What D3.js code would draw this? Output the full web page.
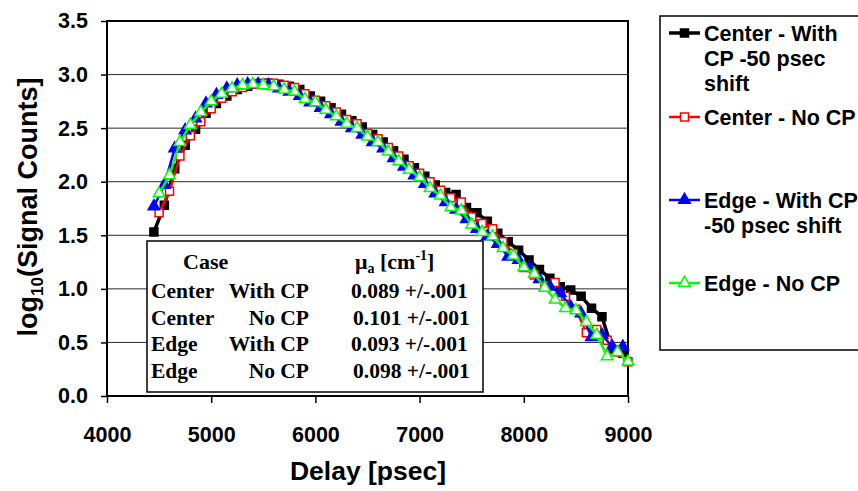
<!DOCTYPE html>
<html>
<head>
<meta charset="utf-8">
<script src="https://cdnjs.cloudflare.com/ajax/libs/d3/7.8.5/d3.min.js"></script>
<style>
body { margin: 0; background: #fff; }
text { font-family: Arial, "Liberation Sans", sans-serif; font-weight: bold; fill: #000; }
.tbl text { font-family: "Times New Roman", "Liberation Serif", serif; }
</style>
</head>
<body>
<div id="chart"></div>
<script>
var svgWidth = 858;
var svgHeight = 491;

// delays (psec); the "With CP" runs are shifted by -50 psec
var delayNoCP = [4500, 4600, 4700, 4800, 4900, 5000, 5100, 5200, 5300, 5400, 5500, 5600, 5700, 5800, 5900,
  6000, 6100, 6200, 6300, 6400, 6500, 6600, 6700, 6800, 6900, 7000, 7100, 7200, 7300, 7400, 7500,
  7600, 7700, 7800, 7900, 8000, 8100, 8200, 8300, 8400, 8500, 8600, 8700, 8800, 8900, 9000];
var delayWithCP = [4450, 4550, 4650, 4750, 4850, 4950, 5050, 5150, 5250, 5350, 5450, 5550, 5650, 5750, 5850,
  5950, 6050, 6150, 6250, 6350, 6450, 6550, 6650, 6750, 6850, 6950, 7050, 7150, 7250, 7350, 7450,
  7550, 7650, 7750, 7850, 7950, 8050, 8150, 8250, 8350, 8450, 8550, 8650, 8750, 8850, 8950];

var centerWithCP = [1.53, 1.78, 2.12, 2.34, 2.49, 2.64, 2.73, 2.80, 2.86, 2.89, 2.91, 2.92, 2.91, 2.89, 2.86,
  2.80, 2.75, 2.69, 2.63, 2.57, 2.51, 2.44, 2.37, 2.29, 2.21, 2.13, 2.05, 1.97, 1.90, 1.88, 1.76,
  1.71, 1.63, 1.52, 1.44, 1.36, 1.27, 1.18, 1.10, 1.02, 0.99, 0.93, 0.82, 0.74, 0.43, 0.40];
var centerNoCP = [1.71, 1.91, 2.24, 2.43, 2.56, 2.68, 2.78, 2.84, 2.88, 2.91, 2.92, 2.92, 2.90, 2.88, 2.82,
  2.76, 2.71, 2.65, 2.58, 2.54, 2.45, 2.40, 2.32, 2.24, 2.15, 2.08, 2.00, 1.92, 1.85, 1.81, 1.67,
  1.61, 1.56, 1.44, 1.33, 1.20, 1.13, 1.03, 1.06, 0.93, 0.81, 0.59, 0.62, 0.52, 0.41, 0.32];
var edgeWithCP = [1.77, 1.97, 2.31, 2.48, 2.59, 2.73, 2.81, 2.87, 2.90, 2.91, 2.91, 2.90, 2.87, 2.84, 2.80,
  2.74, 2.69, 2.63, 2.56, 2.50, 2.44, 2.37, 2.31, 2.22, 2.14, 2.06, 1.98, 1.89, 1.81, 1.74, 1.65,
  1.56, 1.49, 1.42, 1.30, 1.27, 1.20, 1.09, 1.02, 0.96, 0.83, 0.77, 0.55, 0.57, 0.46, 0.46];
var edgeNoCP = [1.89, 2.06, 2.37, 2.53, 2.65, 2.75, 2.82, 2.87, 2.90, 2.91, 2.90, 2.89, 2.86, 2.84, 2.77,
  2.74, 2.67, 2.61, 2.54, 2.50, 2.42, 2.37, 2.28, 2.19, 2.11, 2.04, 1.94, 1.87, 1.76, 1.73, 1.60,
  1.53, 1.49, 1.38, 1.31, 1.20, 1.14, 1.01, 0.90, 0.82, 0.80, 0.69, 0.57, 0.37, 0.41, 0.32];

var seriesNames = ["Center - With CP -50 psec shift", "Center - No CP", "Edge - With CP -50 psec shift", "Edge - No CP"];
var legendLines = [["Center - With", "CP -50 psec", "shift"], ["Center - No CP"], ["Edge - With CP", "-50 psec shift"], ["Edge - No CP"]];

var xTicks = [4000, 5000, 6000, 7000, 8000, 9000];
var yTicks = [0, 0.5, 1, 1.5, 2, 2.5, 3, 3.5];

var tableCase = [["Center", "With CP"], ["Center", "No CP"], ["Edge", "With CP"], ["Edge", "No CP"]];
var tableMua = ["0.089 +/-.001", "0.101 +/-.001", "0.093 +/-.001", "0.098 +/-.001"];

var plotLeft = 107, plotRight = 628, plotTop = 21, plotBottom = 396;

var svg = d3.select("#chart").append("svg")
  .attr("width", svgWidth)
  .attr("height", svgHeight);

var xScale = d3.scaleLinear().domain([4000, 9000]).range([plotLeft, plotRight]);
var yScale = d3.scaleLinear().domain([0, 3.5]).range([plotBottom, plotTop]);

// gridlines
svg.append("g")
  .selectAll("line")
  .data(yTicks.filter(function(d) { return d > 0 && d < 3.5; }))
  .enter()
  .append("line")
  .attr("x1", plotLeft)
  .attr("x2", plotRight)
  .attr("y1", function(d) { return yScale(d); })
  .attr("y2", function(d) { return yScale(d); })
  .attr("stroke", "#2a2a2a")
  .attr("stroke-width", 1);

var yAxis = d3.axisLeft(yScale).tickValues(yTicks).tickFormat(d3.format(".1f")).tickSize(6).tickPadding(13);
var xAxis = d3.axisBottom(xScale).tickValues(xTicks).tickFormat(d3.format("d")).tickSize(7).tickPadding(24);

var gy = svg.append("g").attr("transform", "translate(" + plotLeft + ",0)").call(yAxis);
var gx = svg.append("g").attr("transform", "translate(0," + plotBottom + ")").call(xAxis);
[gx, gy].forEach(function(g) {
  g.select(".domain").remove();
  g.selectAll(".tick line").attr("stroke", "#000").attr("stroke-width", 1.5);
  g.selectAll(".tick text").attr("font-size", 21.5).attr("font-weight", "bold")
    .attr("font-family", "Arial, 'Liberation Sans', sans-serif").attr("fill", "#000");
});

// frame
svg.append("rect")
  .attr("x", plotLeft)
  .attr("y", plotTop)
  .attr("width", plotRight - plotLeft)
  .attr("height", plotBottom - plotTop)
  .attr("fill", "none")
  .attr("stroke", "#000")
  .attr("stroke-width", 2);

// axis titles
svg.append("text")
  .attr("x", 368)
  .attr("y", 480)
  .attr("text-anchor", "middle")
  .attr("font-size", 26.5)
  .text("Delay [psec]");

var yTitle = svg.append("text")
  .attr("transform", "translate(37," + 207 + ")rotate(-90)")
  .attr("text-anchor", "middle")
  .attr("font-size", 27);
yTitle.append("tspan").text("log");
yTitle.append("tspan").attr("font-size", 17).attr("dy", 6).text("10");
yTitle.append("tspan").attr("dy", -6).text("(Signal Counts]");

// table of mu_a
var tbl = svg.append("g").attr("class", "tbl");
tbl.append("rect")
  .attr("x", 147).attr("y", 241)
  .attr("width", 336).attr("height", 151)
  .attr("fill", "#fff")
  .attr("stroke", "#000")
  .attr("stroke-width", 1.5);
tbl.append("text").attr("x", 183).attr("y", 269).attr("font-size", 22).text("Case");
var mu = tbl.append("text").attr("x", 355).attr("y", 269).attr("font-size", 22);
mu.append("tspan").text("\u03bc");
mu.append("tspan").attr("font-size", 14).attr("dy", 4).text("a");
mu.append("tspan").attr("dy", -4).text(" [cm");
mu.append("tspan").attr("font-size", 14).attr("dy", -9).text("-1");
mu.append("tspan").attr("dy", 9).text("]");

tableCase.forEach(function(row, i) {
  var yy = 298 + i * 26.7;
  tbl.append("text").attr("x", 151).attr("y", yy).attr("font-size", 21.5).text(row[0]);
  tbl.append("text").attr("x", 309).attr("y", yy).attr("font-size", 21.5).attr("text-anchor", "end").text(row[1]);
  tbl.append("text").attr("x", i % 2 === 0 ? 351 : 353).attr("y", yy).attr("font-size", 21.5).text(tableMua[i]);
});

// series
var series = [
  { x: delayWithCP, y: centerWithCP, color: "#000000", width: 3.5, shape: "square", fill: "#000000" },
  { x: delayNoCP, y: centerNoCP, color: "#ff0000", width: 2.5, shape: "square", fill: "#ffffff" },
  { x: delayWithCP, y: edgeWithCP, color: "#0000ff", width: 2.5, shape: "triangle", fill: "#0000ff" },
  { x: delayNoCP, y: edgeNoCP, color: "#00ff00", width: 2.5, shape: "triangle", fill: "#ffffff" }
];

var line = d3.line()
  .x(function(d) { return xScale(d[0]); })
  .y(function(d) { return yScale(d[1]); });

function markerPath(shape) {
  if (shape === "square") return d3.symbol().type(d3.symbolSquare).size(64)();
  return d3.symbol().type(d3.symbolTriangle).size(58)();
}

series.forEach(function(s) {
  var pts = s.x.map(function(v, i) { return [v, s.y[i]]; });
  var g = svg.append("g");
  g.append("path")
    .datum(pts)
    .attr("d", line)
    .attr("fill", "none")
    .attr("stroke", s.color)
    .attr("stroke-width", s.width)
    .attr("stroke-linejoin", "round");
  g.selectAll("path.mk")
    .data(pts)
    .enter()
    .append("path")
    .attr("class", "mk")
    .attr("d", markerPath(s.shape))
    .attr("transform", function(d) { return "translate(" + xScale(d[0]) + "," + yScale(d[1]) + ")"; })
    .attr("fill", s.fill)
    .attr("stroke", s.color)
    .attr("stroke-width", 1.5);
});

// legend
var legend = svg.append("g");
legend.append("rect")
  .attr("x", 660).attr("y", 16)
  .attr("width", 220).attr("height", 334)
  .attr("fill", "#fff")
  .attr("stroke", "#000")
  .attr("stroke-width", 1.5);

var legendY = [33, 117, 200, 283];
series.forEach(function(s, i) {
  var ly = legendY[i];
  legend.append("line")
    .attr("x1", 669).attr("x2", 700)
    .attr("y1", ly).attr("y2", ly)
    .attr("stroke", s.color)
    .attr("stroke-width", s.width);
  legend.append("path")
    .attr("d", markerPath(s.shape))
    .attr("transform", "translate(684.5," + ly + ")")
    .attr("fill", s.fill)
    .attr("stroke", s.color)
    .attr("stroke-width", 1.5);
  var t = legend.append("text")
    .attr("x", 704)
    .attr("y", ly + 7.5)
    .attr("font-size", 21.5);
  legendLines[i].forEach(function(str, j) {
    t.append("tspan").attr("x", 704).attr("dy", j === 0 ? 0 : 25).text(str);
  });
});
</script>
</body>
</html>
